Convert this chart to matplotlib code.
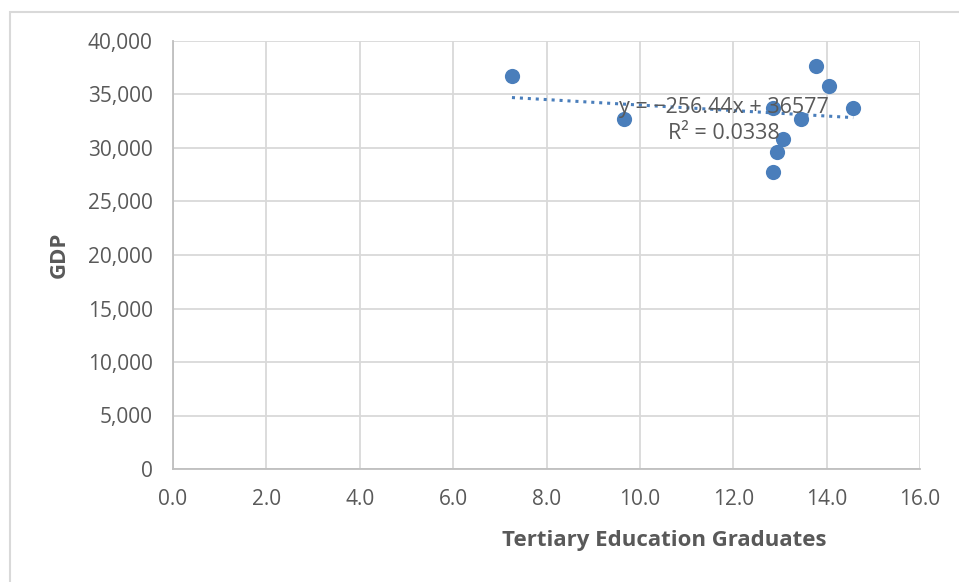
import numpy as np
import matplotlib.pyplot as plt
from matplotlib.patches import Rectangle
from matplotlib.ticker import FuncFormatter, MultipleLocator

plt.rcParams['font.family'] = ['Open Sans', 'DejaVu Sans']

# Graduates (%) vs GDP per country
graduates = [7.26, 9.66, 12.85, 12.85, 12.93, 13.06, 13.45, 13.77, 14.06, 14.57]
gdp = [36700, 32750, 33700, 27750, 29650, 30800, 32750, 37700, 35800, 33700]

# Linear trend reported on the chart
slope = -256.44
intercept = 36577
r_squared = 0.0338

text_gray = '#595959'
grid_gray = '#d9d9d9'
axis_gray = '#bfbfbf'
point_blue = '#4a7ebb'

fig = plt.figure(figsize=(9.59, 5.82), dpi=100)
ax = fig.add_axes([173 / 959, 1 - 469 / 582, 747 / 959, 428 / 582])

# outer chart border
fig.patches.append(Rectangle((10 / 959, -0.1), 1.2, 1 - 12 / 582 + 0.1,
                             transform=fig.transFigure, fill=False,
                             edgecolor='#d9d9d9', linewidth=1.5, clip_on=False))

ax.set_xlim(0, 16)
ax.set_ylim(0, 40000)
ax.xaxis.set_major_locator(MultipleLocator(2))
ax.yaxis.set_major_locator(MultipleLocator(5000))
ax.xaxis.set_major_formatter(FuncFormatter(lambda v, p: f'{v:.1f}'))
ax.yaxis.set_major_formatter(FuncFormatter(lambda v, p: f'{v:,.0f}'))

ax.grid(True, color=grid_gray, linewidth=1.3)
ax.set_axisbelow(True)
for side in ['top', 'right']:
    ax.spines[side].set_visible(False)
for side in ['left', 'bottom']:
    ax.spines[side].set_color(axis_gray)
    ax.spines[side].set_linewidth(1.3)
ax.tick_params(length=0, labelsize=15, colors=text_gray, pad=14.5)

ax.scatter(graduates, gdp, s=120, color=point_blue, zorder=3, linewidths=0)

xs = np.array([min(graduates), max(graduates)])
ax.plot(xs, slope * xs + intercept, linestyle=(0, (1, 1.6)), color=point_blue,
        linewidth=2.2, zorder=2)

ax.text(11.8, 33800, f'y = \u2212{abs(slope)}x + {intercept}', fontsize=15.5,
        color=text_gray, ha='center', va='center', zorder=4)
ax.text(11.8, 31350, f'R² = {r_squared}', fontsize=15.5,
        color=text_gray, ha='center', va='center', zorder=4)

ax.set_xlabel('Tertiary Education Graduates', fontsize=16, fontweight='bold',
              color=text_gray, labelpad=14)
ax.xaxis.label.set_x(0.657)
ax.set_ylabel('GDP', fontsize=16, fontweight='bold', color=text_gray,
              labelpad=13)

fig.savefig('out.png', dpi=100)
